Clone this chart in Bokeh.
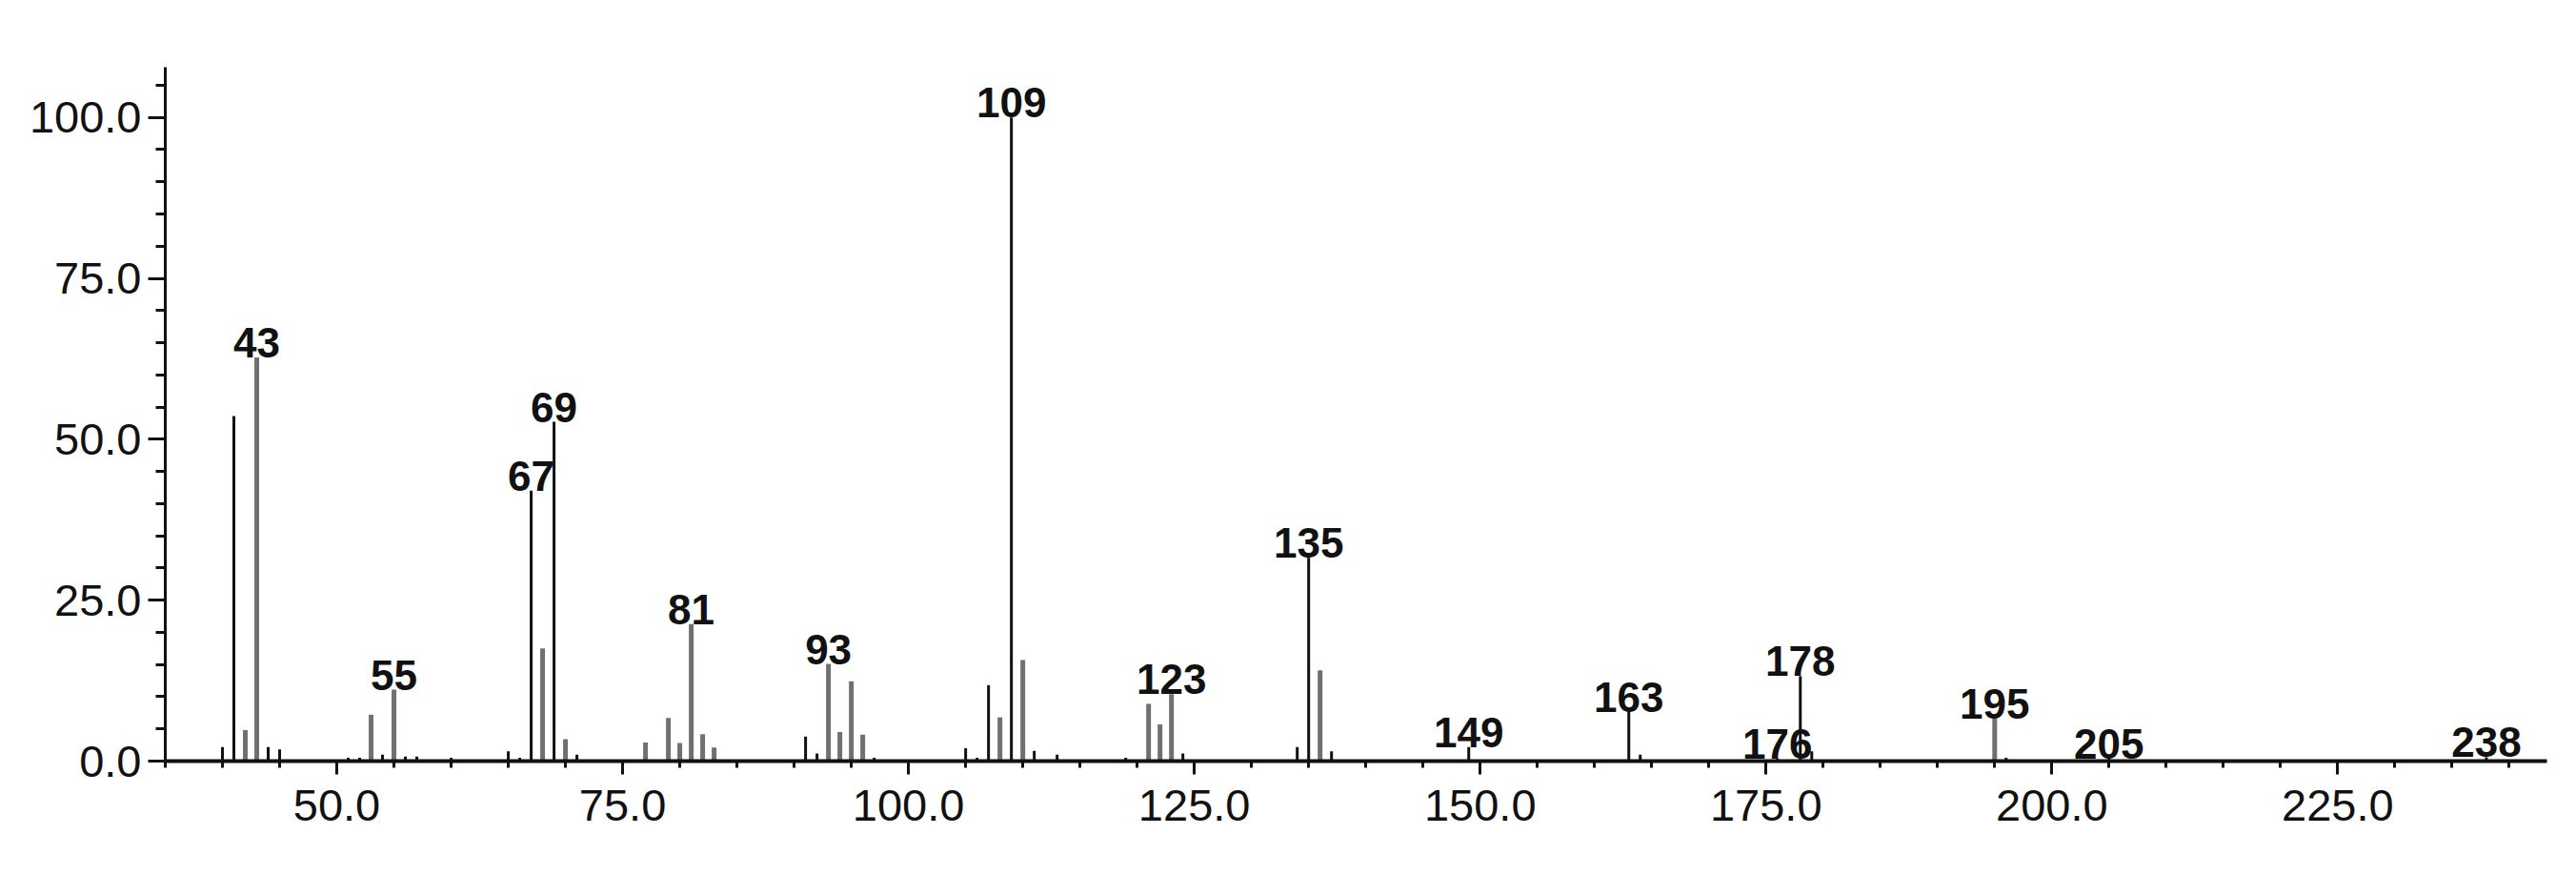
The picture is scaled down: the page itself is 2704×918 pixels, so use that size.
from bokeh.plotting import figure
from bokeh.models import Range1d, SingleIntervalTicker, PrintfTickFormatter, ColumnDataSource
from bokeh.core.properties import value
from bokeh.embed import file_html
from bokeh.resources import INLINE

# --- data: m/z and relative intensity (%) ---
dark_mz = [40, 41, 44, 45, 51, 52, 54, 56, 57, 60, 65, 66, 67, 69, 71, 91, 92, 97,
           105, 106, 107, 109, 111, 113, 119, 124, 134, 135, 137, 149, 163, 164,
           176, 178, 179, 196, 205, 238]
dark_int = [2.2, 53.6, 2.2, 1.8, 0.5, 0.5, 1.0, 0.7, 0.7, 0.5, 1.5, 0.5, 42.0, 52.7, 1.0, 3.8, 1.2, 0.5,
            2.0, 0.5, 11.8, 100.0, 1.6, 1.0, 0.5, 1.2, 2.2, 31.6, 1.5, 2.2, 7.7, 1.0,
            0.4, 13.2, 1.5, 0.5, 0.4, 0.6]

gray_mz = [42, 43, 53, 55, 68, 70, 77, 79, 80, 81, 82, 83, 93, 94, 95, 96,
           108, 110, 121, 122, 123, 136, 195]
gray_int = [4.8, 62.7, 7.2, 11.1, 17.5, 3.4, 2.9, 6.7, 2.8, 21.3, 4.2, 2.1, 15.1, 4.5, 12.4, 4.1,
            6.8, 15.7, 8.9, 5.7, 10.4, 14.1, 6.6]

label_mz = [43, 55, 67, 69, 81, 93, 109, 123, 135, 149, 163, 176, 178, 195, 205, 238]

x_start, x_end = 35, 243.3
y_start, y_end = 0, 107.8

FONT = "Liberation Sans"

lookup = dict(zip(dark_mz, dark_int))
lookup.update(dict(zip(gray_mz, gray_int)))
label_src = ColumnDataSource(dict(
    x=label_mz,
    y=[lookup[m] for m in label_mz],
    t=[str(m) for m in label_mz],
))

p = figure(width=2688, height=900,
           x_range=Range1d(x_start, x_end), y_range=Range1d(y_start, y_end),
           output_backend="svg", toolbar_location=None,
           min_border_left=173, min_border_right=15,
           min_border_top=70, min_border_bottom=102)
p.grid.visible = False
p.outline_line_color = None
p.background_fill_color = "white"
p.border_fill_color = "white"

p.segment(x0=gray_mz, y0=[0] * len(gray_mz), x1=gray_mz, y1=gray_int,
          line_color="#707070", line_width=5, line_cap="butt")
p.segment(x0=dark_mz, y0=[0] * len(dark_mz), x1=dark_mz, y1=dark_int,
          line_color="#111111", line_width=3, line_cap="butt")

p.text(x="x", y="y", text="t", source=label_src,
       text_align="center", text_baseline="bottom",
       text_font=value(FONT), text_font_style="bold", text_font_size="44px",
       text_color="#111111")

for ax in (p.xaxis[0], p.yaxis[0]):
    ax.axis_line_color = "#111111"
    ax.major_tick_line_color = "#111111"
    ax.minor_tick_line_color = "#111111"
    ax.major_tick_line_width = 3
    ax.minor_tick_line_width = 3
    ax.major_tick_in = 0
    ax.minor_tick_in = 0
    ax.major_label_text_font = FONT
    ax.major_label_text_font_size = "47px"
    ax.major_label_text_color = "#111111"
    ax.formatter = PrintfTickFormatter(format="%.1f")

p.xaxis.ticker = SingleIntervalTicker(interval=25, num_minor_ticks=5)
p.yaxis.ticker = SingleIntervalTicker(interval=25, num_minor_ticks=5)
p.xaxis.axis_line_width = 4
p.yaxis.axis_line_width = 3
p.xaxis.major_tick_out = 14
p.xaxis.minor_tick_out = 7
p.yaxis.major_tick_out = 18
p.yaxis.minor_tick_out = 10
p.xaxis.major_label_standoff = 16
p.yaxis.major_label_standoff = 7

open("out.html", "w").write(file_html(p, INLINE))
